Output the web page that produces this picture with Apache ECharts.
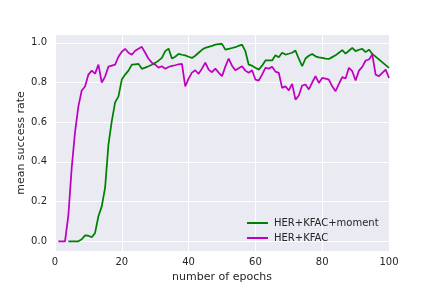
<!DOCTYPE html>
<html>
<head>
<meta charset="utf-8">
<script src="https://cdn.jsdelivr.net/npm/echarts@6/dist/echarts.min.js"></script>
<style>html,body{margin:0;padding:0;background:#fff}#c{width:432px;height:288px}</style>
</head>
<body>
<div id="c"></div>
<script>
const epochs = Array.from({length: 100}, (_, i) => i + 1);
const seriesNames = ['HER+KFAC+moment', 'HER+KFAC'];
const xTicks = [0, 20, 40, 60, 80, 100];
const yTicks = [0.0, 0.2, 0.4, 0.6, 0.8, 1.0];
// HER+KFAC+moment (green), epochs 1..100, null = no point
const moment = [
  null, null, null, 0, 0, 0, 0, 0.01, 0.03, 0.028,
  0.02, 0.042, 0.126, 0.176, 0.27, 0.487, 0.605, 0.70, 0.73, 0.815,
  0.84, 0.86, 0.89, 0.892, 0.894, 0.869, 0.875, 0.882, 0.89, 0.899,
  0.91, 0.924, 0.958, 0.971, 0.921, 0.93, 0.944, 0.94, 0.937, 0.93,
  0.924, 0.935, 0.95, 0.965, 0.975, 0.98, 0.985, 0.991, 0.993, 0.995,
  0.966, 0.97, 0.974, 0.978, 0.985, 0.991, 0.958, 0.89, 0.885, 0.874,
  0.865, 0.885, 0.911, 0.911, 0.911, 0.937, 0.927, 0.95, 0.941, 0.945,
  0.95, 0.961, 0.92, 0.882, 0.921, 0.935, 0.944, 0.932, 0.927, 0.924,
  0.92, 0.919, 0.928, 0.937, 0.95, 0.963, 0.946, 0.96, 0.975, 0.958,
  0.965, 0.97, 0.953, 0.966, 0.944, null, null, null, null, 0.874
];
// HER+KFAC (magenta), epochs 1..100
const kfac = [
  0, 0, 0, 0.13, 0.37, 0.55, 0.68, 0.76, 0.78, 0.84,
  0.86, 0.845, 0.89, 0.80, 0.83, 0.88, 0.885, 0.89, 0.93, 0.955,
  0.97, 0.95, 0.94, 0.96, 0.97, 0.98, 0.95, 0.92, 0.90, 0.89,
  0.875, 0.882, 0.869, 0.878, 0.884, 0.887, 0.892, 0.894, 0.78, 0.82,
  0.85, 0.862, 0.844, 0.87, 0.90, 0.865, 0.852, 0.87, 0.85, 0.832,
  0.88, 0.921, 0.885, 0.862, 0.872, 0.882, 0.86, 0.849, 0.862, 0.815,
  0.81, 0.84, 0.874, 0.87, 0.879, 0.855, 0.849, 0.773, 0.781, 0.76,
  0.793, 0.714, 0.735, 0.785, 0.79, 0.765, 0.80, 0.832, 0.798, 0.823,
  0.82, 0.815, 0.781, 0.756, 0.793, 0.827, 0.82, 0.874, 0.857, 0.81,
  0.86, 0.879, 0.911, 0.916, 0.941, 0.84, 0.832, 0.849, 0.865, 0.823
];

const TXT = '#262626';
const FONT = 'DejaVu Sans';
const toPairs = vals => epochs.map((e, i) => [e, vals[i] === null ? '-' : vals[i]]);

const chart = echarts.init(document.getElementById('c'), null, {renderer: 'canvas'});
chart.setOption({
  animation: false,
  backgroundColor: '#ffffff',
  textStyle: {fontFamily: FONT, color: TXT},
  grid: {left: 55, right: 43, top: 35, bottom: 36, show: true, backgroundColor: '#EAEAF2', borderWidth: 0},
  xAxis: {
    type: 'value', min: 0, max: 100, interval: 20,
    name: 'number of epochs', nameLocation: 'middle', nameGap: 18,
    nameTextStyle: {fontSize: 11, color: TXT, fontFamily: FONT},
    axisLine: {show: false}, axisTick: {show: false},
    axisLabel: {fontSize: 10, color: TXT, fontFamily: FONT, margin: 6},
    splitLine: {show: true, lineStyle: {color: '#ffffff', width: 1}}
  },
  yAxis: {
    type: 'value', min: -0.0495, max: 1.0395,
    name: 'mean success rate', nameLocation: 'middle', nameGap: 28, nameMoveOverlap: false,
    nameTextStyle: {fontSize: 11, color: TXT, fontFamily: FONT},
    axisLine: {show: false},
    axisTick: {show: false, customValues: yTicks},
    axisLabel: {fontSize: 10, color: TXT, fontFamily: FONT, margin: 8, customValues: yTicks,
      formatter: v => v.toFixed(1)},
    splitLine: {show: false}
  },
  legend: {
    orient: 'vertical', left: 242, top: 213, zlevel: 2,
    itemWidth: 21, itemHeight: 2, itemGap: 5, icon: 'rect',
    textStyle: {fontSize: 10, color: TXT, fontFamily: FONT, padding: [0, 0, 0, 1]},
    data: seriesNames
  },
  series: [
    {
      type: 'line', name: '__grid', data: [], silent: true, z: 1,
      markLine: {
        silent: true, symbol: 'none', label: {show: false},
        lineStyle: {color: '#ffffff', width: 1, type: 'solid'},
        data: yTicks.map(v => ({yAxis: v}))
      }
    },
    {
      type: 'line', name: seriesNames[0], data: toPairs(moment), showSymbol: false, connectNulls: true, zlevel: 1, z: 3,
      lineStyle: {color: '#008000', width: 1.75}, itemStyle: {color: '#008000'}
    },
    {
      type: 'line', name: seriesNames[1], data: toPairs(kfac), showSymbol: false, zlevel: 1, z: 3,
      lineStyle: {color: '#BF00BF', width: 1.75}, itemStyle: {color: '#BF00BF'}
    }
  ]
});
</script>
</body>
</html>
